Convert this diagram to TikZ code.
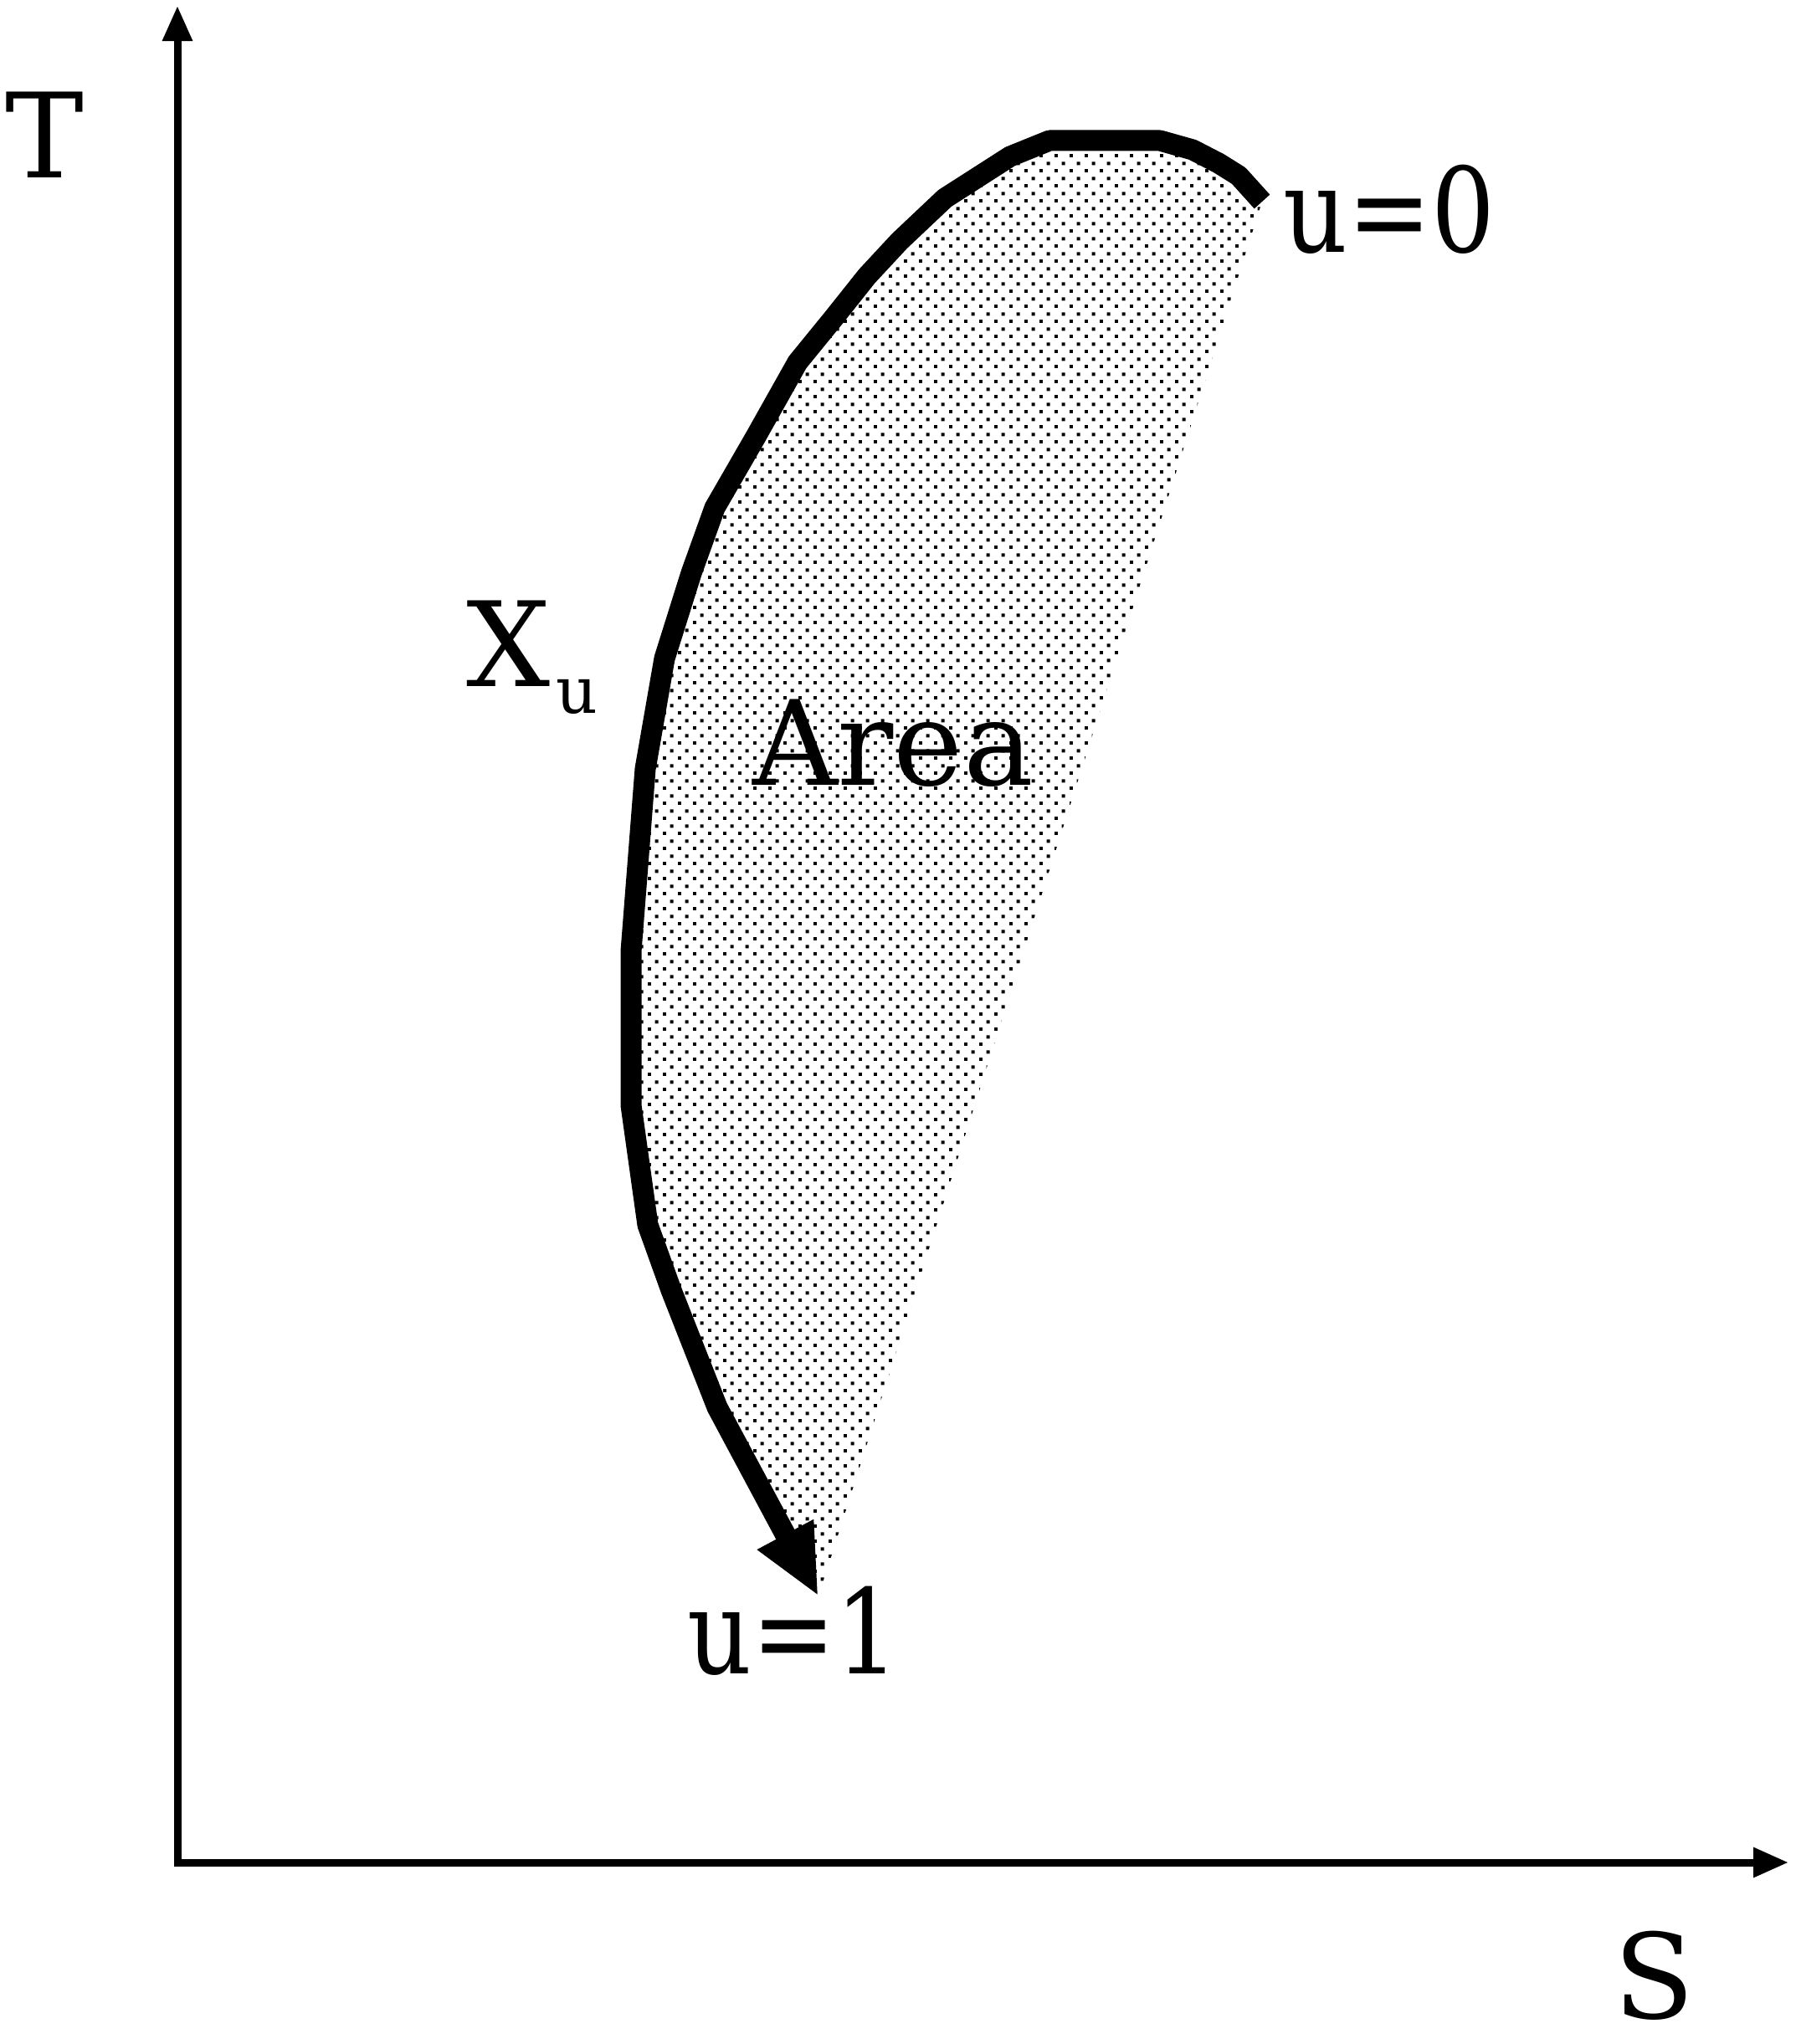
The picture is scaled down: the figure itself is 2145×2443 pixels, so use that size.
\documentclass[tikz,border=0pt]{standalone}
\usepackage{fontspec}
\setmainfont{DejaVu Serif}
\newfontfamily\ulabfont[FakeStretch=0.85]{DejaVu Serif}
\usetikzlibrary{arrows.meta,patterns}
\pgfdeclarepatternformonly{areadots}{\pgfpointorigin}{\pgfpoint{5pt}{5pt}}{\pgfpoint{5pt}{5pt}}{%
  \pgfpathrectangle{\pgfpoint{0pt}{0pt}}{\pgfpoint{1.15pt}{1.15pt}}%
  \pgfpathrectangle{\pgfpoint{2.5pt}{2.5pt}}{\pgfpoint{1.15pt}{1.15pt}}%
  \pgfusepath{fill}}
\begin{document}
\begin{tikzpicture}[x=0.01cm,y=-0.01cm,
  axisline/.style={line width=0.09cm,
    {Triangle[length=0.42cm,width=0.34cm]}-{Triangle[length=0.42cm,width=0.34cm]}},
  pathline/.style={line width=0.25cm, line join=round,
    -{Triangle[length=0.84cm,width=0.70cm]}},
  areafill/.style={pattern=areadots, pattern color=black},
  lbl/.style={font=\fontsize{40}{48}\selectfont, inner sep=0pt},
  ulbl/.style={font=\ulabfont\fontsize{40}{48}\selectfont, inner sep=0pt},
  sublbl/.style={font=\fontsize{22}{26}\selectfont, inner sep=0pt}]
\useasboundingbox (0,0) rectangle (2145,2443);

% axes
\coordinate (ytop) at (212,7);
\coordinate (origin) at (212,2226);
\coordinate (xend) at (2137,2226);
\draw[axisline] (ytop) -- (origin) -- (xend);

% curve points
\coordinate (p0) at (1508,241);
\coordinate (tip) at (978,1908);

% shaded area
\fill[areafill] (p0) -- (1480,210) -- (1456,195) -- (1425,179) -- (1386,168)
  -- (1254,168) -- (1207,187) -- (1129,237) -- (1075,288) -- (1036,330)
  -- (997,379) -- (953,433) -- (903,522) -- (854,607) -- (826,685)
  -- (794,787) -- (771,919) -- (754,1137) -- (754,1321) -- (774,1464)
  -- (802,1542) -- (857,1682) -- (tip) -- cycle;

% path X_u
\draw[pathline] (p0) -- (1480,210) -- (1456,195) -- (1425,179) -- (1386,168)
  -- (1254,168) -- (1207,187) -- (1129,237) -- (1075,288) -- (1036,330)
  -- (997,379) -- (953,433) -- (903,522) -- (854,607) -- (826,685)
  -- (794,787) -- (771,919) -- (754,1137) -- (754,1321) -- (774,1464)
  -- (802,1542) -- (857,1682) -- (tip);

% labels
\node[lbl, anchor=base] (tlab) at (53,213) {T};
\node[lbl, anchor=base] (slab) at (1977,2412) {S};
\node[ulbl, anchor=base] (u0) at (1660,302) {u=0};
\node[ulbl, anchor=base] (u1) at (948,2000) {u=1};
\node[lbl, anchor=base] (area) at (1067,938) {Area};
\node[lbl, anchor=base] (xlab) at (608,820) {X};
\node[sublbl, anchor=base] (xsub) at (689,852) {u};
\end{tikzpicture}
\end{document}
